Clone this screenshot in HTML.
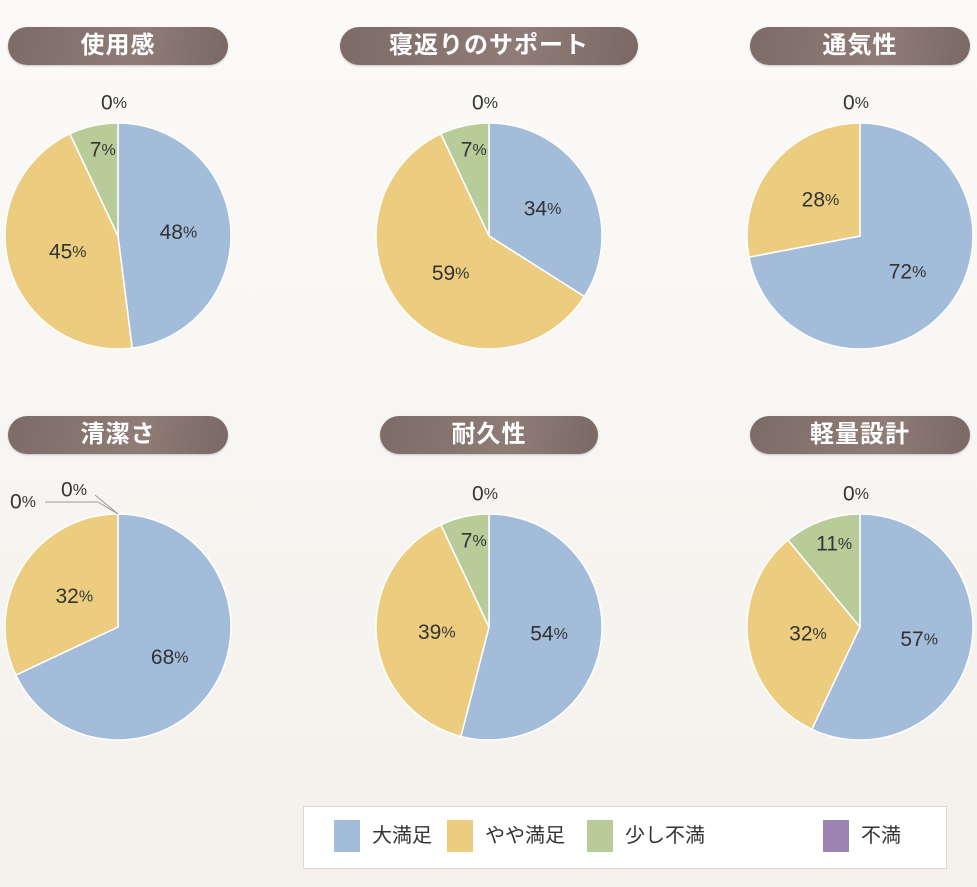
<!DOCTYPE html>
<html><head><meta charset="utf-8"><style>
html,body{margin:0;padding:0}
body{width:977px;height:887px;overflow:hidden;background:linear-gradient(#fcfaf8,#f4f1ec);font-family:"Liberation Sans","Noto Sans CJK JP",sans-serif;position:relative}
.pill{position:absolute;height:38px;border-radius:19px;background:linear-gradient(100deg,#7d6b67 0%,#8f7c77 60%,#7a6864 100%);color:#fff;font-size:24px;line-height:38px;text-align:center;letter-spacing:1px;box-shadow:0 1px 2px rgba(0,0,0,.2);font-weight:bold}
#legend{position:absolute;left:303px;top:806px;width:644px;height:63px;background:#fff;border:1px solid #ddd8d3;box-sizing:border-box}
.sw{position:absolute;top:13px;width:26px;height:32px}
.lt{position:absolute;top:14px;font-size:20px;color:#333;line-height:30px}
</style></head><body>
<svg id="pies" width="977" height="887" style="position:absolute;left:0;top:0"></svg>
<div class="pill" style="left:8px;top:27px;width:220px">使用感</div>
<div class="pill" style="left:340px;top:27px;width:298px">寝返りのサポート</div>
<div class="pill" style="left:750px;top:27px;width:220px">通気性</div>
<div class="pill" style="left:8px;top:416px;width:220px">清潔さ</div>
<div class="pill" style="left:380px;top:416px;width:218px">耐久性</div>
<div class="pill" style="left:750px;top:416px;width:220px">軽量設計</div>
<div id="legend">
 <div class="sw" style="left:30px;background:#a2bcd9"></div><div class="lt" style="left:68px">大満足</div>
 <div class="sw" style="left:143px;background:#eccd7f"></div><div class="lt" style="left:181px">やや満足</div>
 <div class="sw" style="left:283px;background:#b7cc98"></div><div class="lt" style="left:321px">少し不満</div>
 <div class="sw" style="left:519px;background:#9c85b5"></div><div class="lt" style="left:557px">不満</div>
</div>
<script>
const categories=["大満足","やや満足","少し不満","不満"];
const chartNames=["使用感","寝返りのサポート","通気性","清潔さ","耐久性","軽量設計"];
const usability=[48,45,7,0];
const turning=[34,59,7,0];
const breath=[72,28,0,0];
const clean=[68,32,0,0];
const durable=[54,39,7,0];
const light=[57,32,11,0];
const series=[usability,turning,breath,clean,durable,light];
const showZeroGreen=[false,false,false,true,false,false];
const colors=["#a2bcd9","#eccd7f","#b7cc98","#9c85b5"];
const centers=[[118,236],[489,236],[860,236],[118,627],[489,627],[860,627]];
const R=113;
const NS="http://www.w3.org/2000/svg";
const svg=document.getElementById('pies');
function pt(cx,cy,r,a){return [cx+r*Math.sin(a),cy-r*Math.cos(a)];}
function label(x,y,v,idx){
 const t=document.createElementNS(NS,'text');
 
 
 t.setAttribute('x',x);t.setAttribute('y',y);t.setAttribute('text-anchor','middle');
 t.setAttribute('dominant-baseline','central');t.setAttribute('fill','#333');
 t.setAttribute('font-size','21');
 t.innerHTML=v+'<tspan font-size="16">%</tspan>';
 svg.appendChild(t);
}
series.forEach((vals,ci)=>{
 const [cx,cy]=centers[ci];
 const total=vals.reduce((a,b)=>a+b,0);
 let a0=0;
 const zeros=[];
 vals.forEach((v,i)=>{
  const a1=a0+v/total*2*Math.PI;
  if(v>0){
   let el;
   if(v>=total){el=document.createElementNS(NS,'circle');el.setAttribute('cx',cx);el.setAttribute('cy',cy);el.setAttribute('r',R);}
   else{
    el=document.createElementNS(NS,'path');
    const p0=pt(cx,cy,R,a0),p1=pt(cx,cy,R,a1);
    el.setAttribute('d',`M${cx},${cy}L${p0[0]},${p0[1]}A${R},${R} 0 ${a1-a0>Math.PI?1:0} 1 ${p1[0]},${p1[1]}Z`);
   }
   
   
   el.setAttribute('fill',colors[i]);el.setAttribute('stroke','#fff');el.setAttribute('stroke-width','1.5');
   svg.appendChild(el);
   const frac=v/total;
   const lr=frac<0.15?R*0.78:R*0.5;
   const m=pt(cx,cy,lr,(a0+a1)/2);
   label(m[0]+4,m[1],v,i);
  } else {
   if(i===3 || (i===2&&showZeroGreen[ci])) zeros.push(i);
  }
  a0=a1;
 });
 if(zeros.length===1){label(cx-4,cy-R-20,0,zeros[0]);}
 else if(zeros.length>1){
  zeros.forEach((z,k)=>{
   const l=document.createElementNS(NS,'polyline');
   
   
   if(k===0){
    l.setAttribute('points',`${cx-23},${cy-R-19} ${cx},${cy-R}`);
   } else {
    l.setAttribute('points',`${cx-73},${cy-R-12} ${cx-20},${cy-R-12} ${cx},${cy-R}`);
   }
   l.setAttribute('fill','none');l.setAttribute('stroke','#999');l.setAttribute('stroke-width','1');
   svg.appendChild(l);
   if(k===0) label(cx-44,cy-R-24,0,z); else label(cx-95,cy-R-12,0,z);
  });
 }
});
</script>
</body></html>
